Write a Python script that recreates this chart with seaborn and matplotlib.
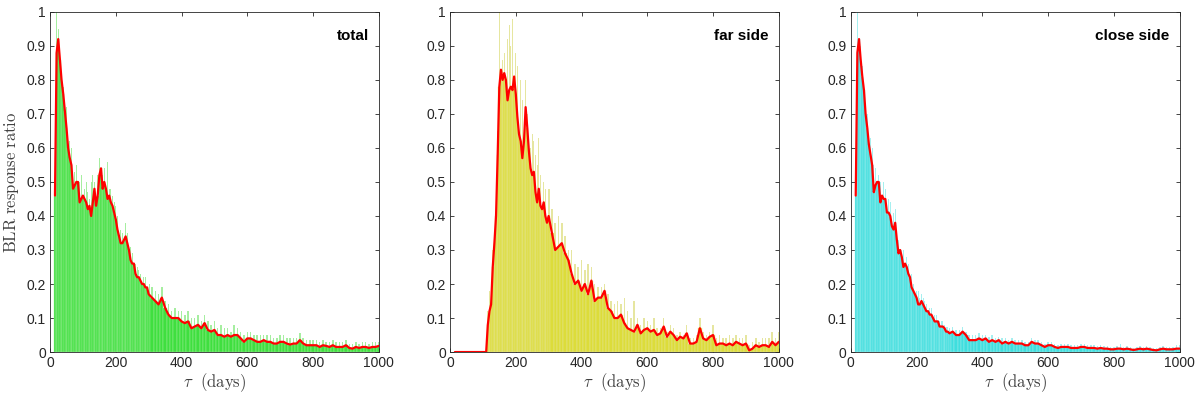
import numpy as np
import pandas as pd
import matplotlib
matplotlib.use("Agg")
import matplotlib.pyplot as plt
import seaborn as sns

# time-lag grid (days): 5-day steps to 300, 10-day steps after
tau = list(range(15, 301, 5)) + list(range(310, 1001, 10))

# ---- total ----
total_line = [
    0.46, 0.88, 0.92, 0.86, 0.80, 0.76, 0.71, 0.66, 0.60, 0.57,
    0.55, 0.48, 0.49, 0.50, 0.50, 0.44, 0.45, 0.46, 0.45, 0.44,
    0.42, 0.43, 0.40, 0.44, 0.48, 0.43, 0.46, 0.52, 0.54, 0.48,
    0.50, 0.48, 0.45, 0.46, 0.44, 0.43, 0.41, 0.39, 0.36, 0.34,
    0.32, 0.32, 0.33, 0.34, 0.32, 0.30, 0.27, 0.26, 0.26, 0.23,
    0.22, 0.22, 0.21, 0.20, 0.20, 0.19, 0.19, 0.17,
    0.16, 0.15, 0.14, 0.16, 0.13, 0.11, 0.10, 0.10, 0.10, 0.09,
    0.085, 0.09, 0.07, 0.075, 0.08, 0.07, 0.085, 0.065, 0.06, 0.065,
    0.05, 0.05, 0.045, 0.05, 0.045, 0.05, 0.05, 0.04, 0.03, 0.04,
    0.04, 0.035, 0.03, 0.03, 0.035, 0.03, 0.03, 0.025, 0.025, 0.03,
    0.03, 0.025, 0.022, 0.025, 0.025, 0.035, 0.025, 0.02, 0.02, 0.02,
    0.02, 0.015, 0.02, 0.018, 0.015, 0.02, 0.015, 0.015, 0.015, 0.02,
    0.012, 0.01, 0.015, 0.012, 0.015, 0.015, 0.012, 0.015, 0.015, 0.018,
]
total_peak = [
    0.50, 1.00, 0.95, 0.85, 0.80, 0.78, 0.72, 0.72, 0.65, 0.62,
    0.60, 0.55, 0.53, 0.55, 0.54, 0.50, 0.52, 0.55, 0.48, 0.50,
    0.47, 0.45, 0.50, 0.52, 0.50, 0.50, 0.52, 0.57, 0.56, 0.52,
    0.54, 0.52, 0.56, 0.48, 0.48, 0.46, 0.44, 0.43, 0.40, 0.38,
    0.36, 0.35, 0.37, 0.38, 0.35, 0.33, 0.31, 0.29, 0.30, 0.26,
    0.25, 0.24, 0.23, 0.24, 0.22, 0.22, 0.21, 0.20,
    0.19, 0.18, 0.17, 0.19, 0.15, 0.14, 0.12, 0.13, 0.12, 0.12,
    0.11, 0.12, 0.10, 0.10, 0.11, 0.09, 0.11, 0.09, 0.08, 0.09,
    0.07, 0.08, 0.07, 0.07, 0.06, 0.08, 0.07, 0.06, 0.05, 0.06,
    0.06, 0.05, 0.05, 0.05, 0.05, 0.05, 0.05, 0.04, 0.04, 0.05,
    0.05, 0.04, 0.04, 0.04, 0.04, 0.055, 0.04, 0.035, 0.035, 0.035,
    0.035, 0.03, 0.035, 0.03, 0.03, 0.035, 0.03, 0.03, 0.03, 0.035,
    0.025, 0.025, 0.03, 0.025, 0.03, 0.03, 0.025, 0.03, 0.03, 0.03,
]

# ---- far side ----
far_line = [
    0.0, 0.0, 0.0, 0.0, 0.0, 0.0, 0.0, 0.0, 0.0, 0.0,
    0.0, 0.0, 0.0, 0.0, 0.0, 0.0, 0.0, 0.0, 0.0, 0.0,
    0.08, 0.12, 0.14, 0.25, 0.32, 0.40, 0.58, 0.78, 0.83, 0.80,
    0.82, 0.80, 0.74, 0.77, 0.78, 0.77, 0.81, 0.76, 0.69, 0.64,
    0.62, 0.57, 0.62, 0.72, 0.66, 0.59, 0.54, 0.52, 0.53, 0.47,
    0.44, 0.48, 0.43, 0.42, 0.44, 0.40, 0.38, 0.40,
    0.35, 0.30, 0.31, 0.32, 0.29, 0.27, 0.23, 0.20, 0.21, 0.18,
    0.20, 0.17, 0.21, 0.15, 0.16, 0.16, 0.18, 0.13, 0.12, 0.10,
    0.10, 0.11, 0.085, 0.07, 0.065, 0.06, 0.08, 0.055, 0.065, 0.07,
    0.06, 0.065, 0.05, 0.055, 0.075, 0.045, 0.06, 0.05, 0.035, 0.045,
    0.04, 0.055, 0.025, 0.025, 0.03, 0.07, 0.04, 0.035, 0.045, 0.05,
    0.02, 0.025, 0.025, 0.02, 0.025, 0.02, 0.03, 0.025, 0.02, 0.025,
    0.005, 0.01, 0.02, 0.015, 0.02, 0.02, 0.015, 0.03, 0.02, 0.03,
]
far_peak = [
    0.0, 0.0, 0.0, 0.0, 0.0, 0.0, 0.0, 0.0, 0.0, 0.0,
    0.0, 0.0, 0.0, 0.0, 0.0, 0.0, 0.0, 0.0, 0.0, 0.0,
    0.12, 0.18, 0.20, 0.30, 0.34, 0.45, 0.65, 1.00, 0.90, 0.86,
    0.88, 0.94, 0.92, 0.96, 0.90, 0.98, 1.00, 0.88, 0.84, 0.94,
    0.80, 0.74, 0.78, 0.80, 0.70, 0.72, 0.60, 0.64, 0.62, 0.58,
    0.55, 0.63, 0.52, 0.55, 0.50, 0.48, 0.46, 0.48,
    0.42, 0.38, 0.40, 0.38, 0.34, 0.30, 0.30, 0.26, 0.25, 0.27,
    0.24, 0.26, 0.25, 0.20, 0.19, 0.19, 0.20, 0.17, 0.15, 0.14,
    0.15, 0.14, 0.16, 0.12, 0.10, 0.15, 0.10, 0.08, 0.10, 0.09,
    0.08, 0.10, 0.07, 0.07, 0.10, 0.06, 0.08, 0.07, 0.05, 0.06,
    0.05, 0.08, 0.04, 0.04, 0.05, 0.10, 0.06, 0.05, 0.06, 0.08,
    0.04, 0.05, 0.04, 0.04, 0.05, 0.04, 0.05, 0.04, 0.04, 0.05,
    0.02, 0.03, 0.04, 0.03, 0.04, 0.04, 0.04, 0.06, 0.04, 0.06,
]

# ---- close side ----
close_line = [
    0.46, 0.88, 0.92, 0.86, 0.81, 0.77, 0.70, 0.66, 0.61, 0.58,
    0.55, 0.47, 0.49, 0.50, 0.50, 0.44, 0.46, 0.45, 0.45, 0.41,
    0.41, 0.40, 0.37, 0.36, 0.38, 0.33, 0.29, 0.30, 0.28, 0.25,
    0.26, 0.25, 0.23, 0.22, 0.19, 0.18, 0.17, 0.16, 0.14, 0.14,
    0.15, 0.14, 0.13, 0.12, 0.12, 0.11, 0.11, 0.10, 0.09, 0.09,
    0.09, 0.075, 0.075, 0.075, 0.07, 0.06, 0.06, 0.055,
    0.06, 0.05, 0.05, 0.06, 0.05, 0.035, 0.035, 0.035, 0.04, 0.035,
    0.04, 0.03, 0.035, 0.03, 0.035, 0.025, 0.03, 0.025, 0.03, 0.025,
    0.025, 0.025, 0.02, 0.02, 0.03, 0.025, 0.025, 0.02, 0.015, 0.02,
    0.02, 0.015, 0.012, 0.015, 0.015, 0.015, 0.012, 0.012, 0.012, 0.015,
    0.015, 0.012, 0.012, 0.012, 0.01, 0.012, 0.01, 0.01, 0.008, 0.008,
    0.01, 0.01, 0.008, 0.01, 0.008, 0.006, 0.008, 0.01, 0.008, 0.01,
    0.008, 0.006, 0.005, 0.008, 0.01, 0.008, 0.008, 0.008, 0.01, 0.01,
]
close_peak = [
    0.50, 1.00, 0.95, 0.90, 0.84, 0.80, 0.72, 0.70, 0.66, 0.63,
    0.60, 0.55, 0.54, 0.54, 0.52, 0.50, 0.52, 0.50, 0.48, 0.46,
    0.45, 0.44, 0.42, 0.41, 0.42, 0.36, 0.33, 0.35, 0.30, 0.30,
    0.28, 0.28, 0.26, 0.24, 0.23, 0.20, 0.20, 0.18, 0.18, 0.16,
    0.17, 0.16, 0.15, 0.14, 0.14, 0.13, 0.13, 0.12, 0.11, 0.11,
    0.10, 0.09, 0.09, 0.09, 0.08, 0.075, 0.075, 0.07,
    0.075, 0.065, 0.065, 0.075, 0.06, 0.05, 0.05, 0.05, 0.055, 0.05,
    0.05, 0.045, 0.05, 0.04, 0.045, 0.04, 0.04, 0.035, 0.04, 0.035,
    0.035, 0.035, 0.03, 0.03, 0.04, 0.035, 0.035, 0.03, 0.025, 0.03,
    0.03, 0.025, 0.02, 0.025, 0.025, 0.025, 0.02, 0.02, 0.02, 0.025,
    0.025, 0.02, 0.02, 0.02, 0.018, 0.02, 0.018, 0.018, 0.015, 0.015,
    0.018, 0.025, 0.015, 0.018, 0.015, 0.012, 0.015, 0.018, 0.015, 0.018,
    0.015, 0.012, 0.012, 0.015, 0.018, 0.015, 0.015, 0.015, 0.02, 0.02,
]

panels = [
    ("total", total_line, total_peak, "#3fdf3f", "#a6eea0"),
    ("far side", far_line, far_peak, "#dcdc3a", "#e6e6a0"),
    ("close side", close_line, close_peak, "#3fdede", "#a6efef"),
]

sns.set_style("ticks")
plt.rcParams["font.family"] = ["Liberation Sans", "DejaVu Sans"]
plt.rcParams["mathtext.fontset"] = "cm"

tau_arr = np.array(tau, dtype=float)
mids = (tau_arr[1:] + tau_arr[:-1]) / 2
edges = [float(e) for e in np.concatenate([[tau_arr[0] - 2.5], mids, [tau_arr[-1] + 2.5]])]

fig = plt.figure(figsize=(12, 3.96), dpi=100)
lefts = [0.0417, 0.375, 0.709]
axes = [fig.add_axes([l, 0.111, 0.274, 0.859]) for l in lefts]

for ax, (name, line, peak, solid, light) in zip(axes, panels):
    df = pd.DataFrame({"tau": tau, "line": line, "peak": peak})
    # thin light spikes behind the solid histogram
    sns.histplot(data=df, x="tau", weights="peak", bins=edges, ax=ax,
                 color=light, alpha=1, linewidth=0, shrink=0.45)
    sns.histplot(data=df, x="tau", weights="line", bins=edges, ax=ax,
                 color=solid, alpha=1, edgecolor=light, linewidth=0.3)
    sns.lineplot(data=df, x="tau", y="line", ax=ax, color="#ff0000",
                 linewidth=1.6)

    ax.set_xlim(0, 1000)
    ax.set_ylim(0, 1)
    ax.set_xticks(range(0, 1001, 200))
    ax.set_yticks(np.arange(0, 1.01, 0.1))
    ax.set_yticklabels(["0", "0.1", "0.2", "0.3", "0.4", "0.5",
                        "0.6", "0.7", "0.8", "0.9", "1"])
    ax.tick_params(direction="in", top=True, right=True, length=3,
                   width=0.6, labelsize=10, colors="#262626", pad=3)
    for sp in ax.spines.values():
        sp.set_visible(True)
        sp.set_linewidth(0.6)
        sp.set_color("#262626")
    ax.set_xlabel(r"$\tau\ \ \mathrm{(days)}$", fontsize=12, color="#404040",
                  labelpad=1)
    ax.set_ylabel("")
    ax.text(0.97, 0.95, name, transform=ax.transAxes, ha="right", va="top",
            fontsize=11, fontweight="bold", color="black")

axes[0].set_ylabel(r"$\mathrm{BLR\ response\ ratio}$", fontsize=12,
                   color="#404040", labelpad=4)

fig.savefig("out.png", dpi=100)
